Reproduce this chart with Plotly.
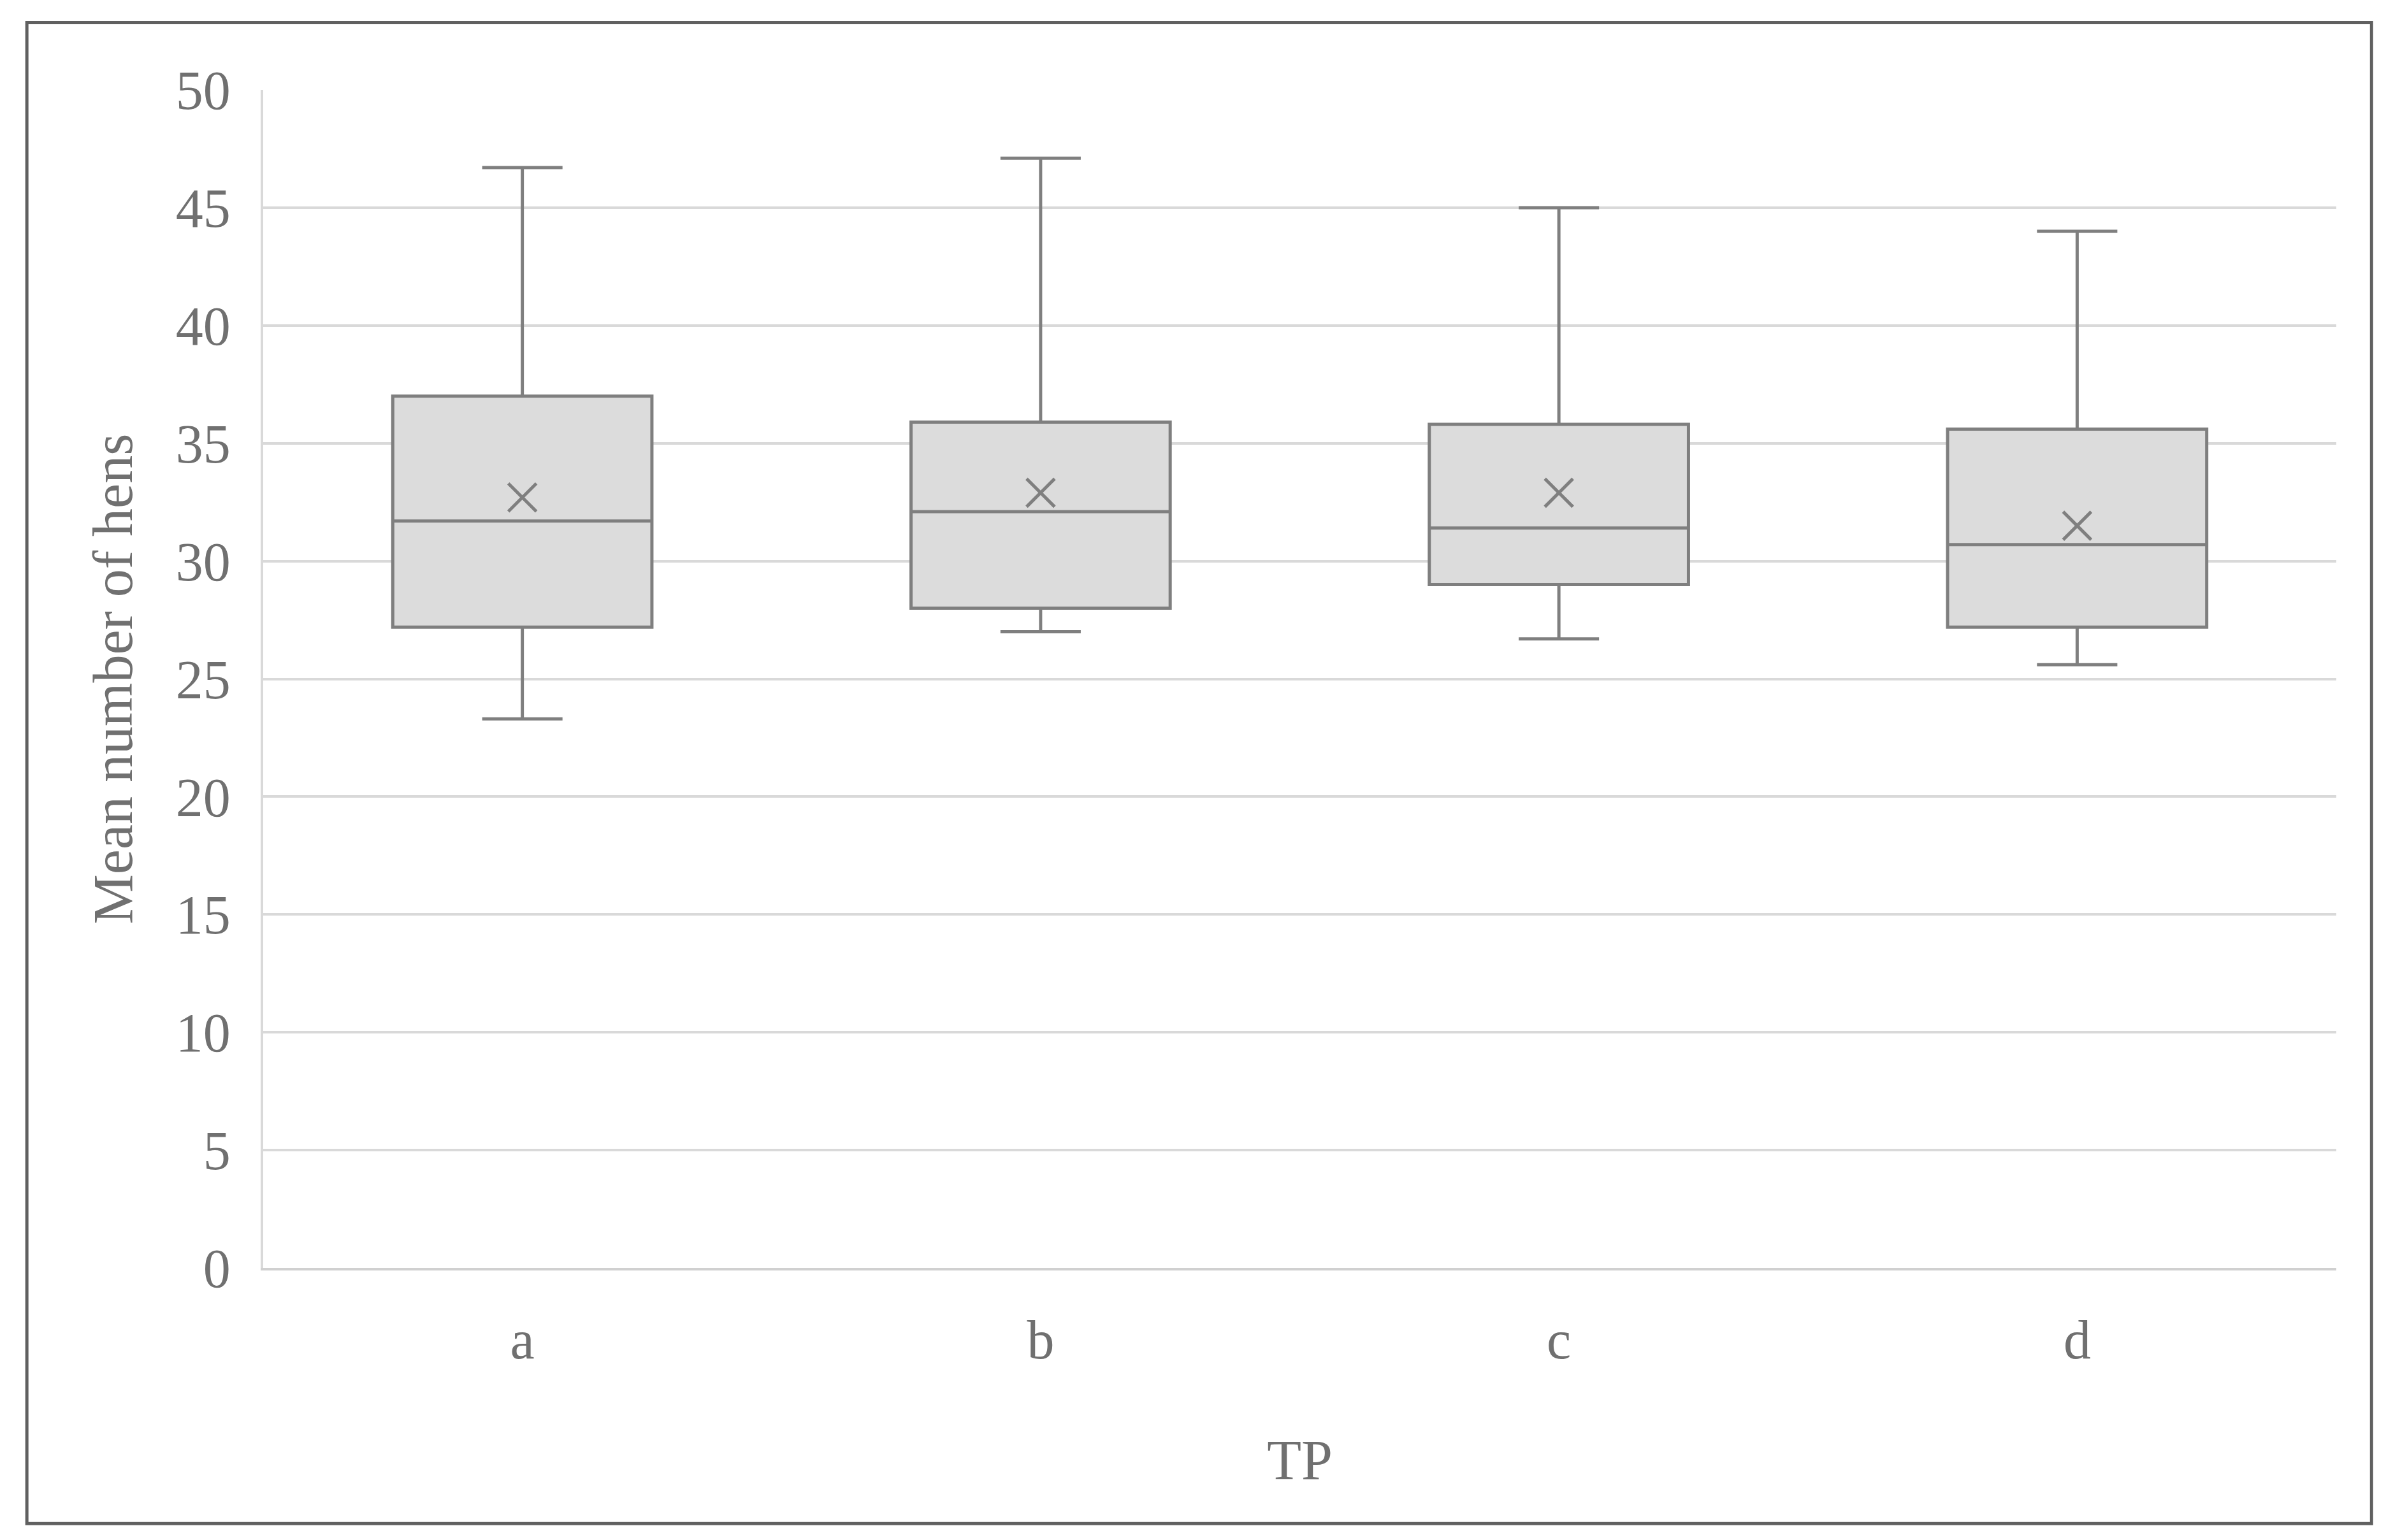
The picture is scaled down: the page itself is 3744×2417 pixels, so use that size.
import plotly.graph_objects as go

categories = ["a", "b", "c", "d"]
q1 = [27.2, 28.0, 29.0, 27.2]
median = [31.7, 32.1, 31.4, 30.7]
q3 = [37.0, 35.9, 35.8, 35.6]
lower = [23.3, 27.0, 26.7, 25.6]
upper = [46.7, 47.1, 45.0, 44.0]
means = [32.7, 32.9, 32.9, 31.5]

grey = "#7f7f7f"
font = "Liberation Serif"

fig = go.Figure()
fig.add_trace(go.Box(x=categories, q1=q1, median=median, q3=q3,
                     lowerfence=lower, upperfence=upper,
                     fillcolor="#dcdcdc", line=dict(color=grey, width=5),
                     width=0.5, whiskerwidth=0.31, boxpoints=False,
                     showlegend=False, hoverinfo="skip"))
fig.add_trace(go.Scatter(x=categories, y=means, mode="markers",
                         marker=dict(symbol="x-thin", size=44,
                                     line=dict(color=grey, width=5)),
                         showlegend=False))

fig.update_layout(
    width=3744, height=2417,
    margin=dict(l=405, r=86, t=133, b=435),
    paper_bgcolor="white", plot_bgcolor="white",
    font=dict(family=font, color="#707070", size=86),
    xaxis=dict(title=dict(text="TP", standoff=110, font=dict(size=88)),
               range=[-0.5, 3.5],
               showline=True, linecolor="#d0d0d0", linewidth=4,
               ticks="", ticklabelstandoff=35),
    yaxis=dict(title=dict(text="Mean number of hens", standoff=40, font=dict(size=88)),
               range=[0, 50], dtick=5, gridcolor="#d9d9d9", gridwidth=4,
               zeroline=False, showline=True, linecolor="#d9d9d9", linewidth=4,
               ticks="", ticklabelstandoff=30),
    shapes=[dict(type="rect", xref="paper", yref="paper",
                 x0=-0.114, x1=1.017, y0=-0.217, y1=1.057,
                 line=dict(color="#606060", width=5))],
)
fig.write_html("out.html")
